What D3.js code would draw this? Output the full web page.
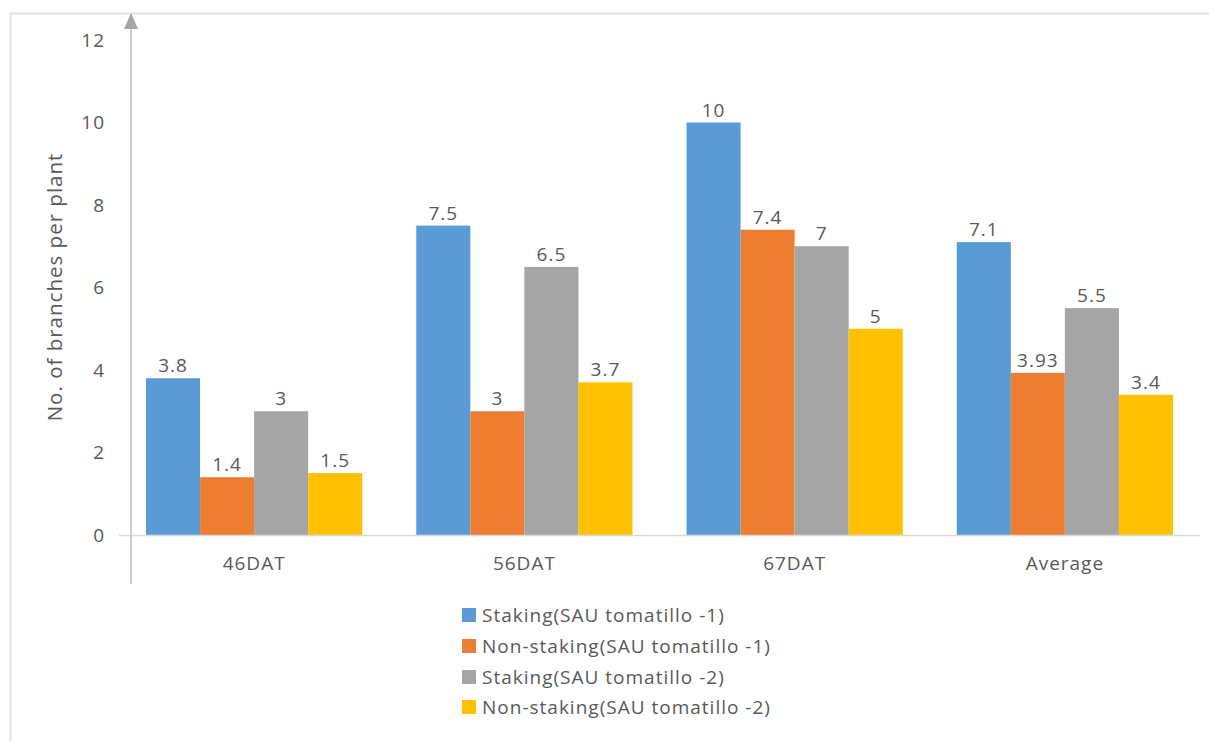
<!DOCTYPE html>
<html>
<head>
<meta charset="utf-8">
<script src="https://cdn.jsdelivr.net/npm/d3@7"></script>
<style>
  body { margin: 0; background: #fff; }
  text { font-family: "Open Sans", sans-serif; fill: #595959; letter-spacing: 1px; }
</style>
</head>
<body>
<div id="plot"></div>
<script>
// chart data
const categories = ["46DAT", "56DAT", "67DAT", "Average"];
const seriesNames = [
  "Staking(SAU tomatillo -1)",
  "Non-staking(SAU tomatillo -1)",
  "Staking(SAU tomatillo -2)",
  "Non-staking(SAU tomatillo -2)"
];
const staking1 = [3.8, 7.5, 10, 7.1];
const nonStaking1 = [1.4, 3, 7.4, 3.93];
const staking2 = [3, 6.5, 7, 5.5];
const nonStaking2 = [1.5, 3.7, 5, 3.4];
const yTicks = [0, 2, 4, 6, 8, 10, 12];

const colors = ["#5b9bd5", "#ed7d31", "#a5a5a5", "#ffc000"];
const allSeries = [staking1, nonStaking1, staking2, nonStaking2];

const svgWidth = 1209;
const svgHeight = 741;

const svg = d3.select("#plot")
  .append("svg")
  .attr("width", svgWidth)
  .attr("height", svgHeight);

// faint outer frame (only top and left show)
svg.append("path")
  .attr("d", "M10.5,741 V13.5 H1209")
  .attr("fill", "none")
  .attr("stroke", "#e3e3e3")
  .attr("stroke-width", 2);

// scales
const x0 = d3.scaleBand()
  .domain(categories)
  .range([119, 1200])
  .paddingInner(0.2)
  .paddingOuter(0.1);

const x1 = d3.scaleBand()
  .domain(d3.range(seriesNames.length))
  .range([0, x0.bandwidth()]);

const y = d3.scaleLinear().domain([0, 12]).range([535, 40]);

// y tick labels
svg.append("g")
  .selectAll("text")
  .data(yTicks)
  .enter()
  .append("text")
  .attr("x", 105)
  .attr("y", d => y(d))
  .attr("dy", "0.35em")
  .style("text-anchor", "end")
  .style("font-size", "19px")
  .text(d => d);

// bars
const groups = svg.append("g")
  .selectAll("g")
  .data(categories)
  .enter()
  .append("g")
  .attr("transform", d => "translate(" + x0(d) + ",0)");

groups.selectAll("rect")
  .data((c, i) => allSeries.map((s, k) => ({ k: k, v: s[i] })))
  .enter()
  .append("rect")
  .attr("x", d => x1(d.k))
  .attr("y", d => y(d.v))
  .attr("width", x1.bandwidth())
  .attr("height", d => y(0) - y(d.v))
  .attr("fill", d => colors[d.k]);

// value labels
groups.selectAll("text.val")
  .data((c, i) => allSeries.map((s, k) => ({ k: k, v: s[i] })))
  .enter()
  .append("text")
  .attr("class", "val")
  .attr("x", d => x1(d.k) + x1.bandwidth() / 2)
  .attr("y", d => y(d.v) - 6)
  .style("text-anchor", "middle")
  .style("font-size", "19px")
  .text(d => d.v);

// x axis line
svg.append("line")
  .attr("x1", 119).attr("x2", 1200)
  .attr("y1", y(0) + 0.5).attr("y2", y(0) + 0.5)
  .attr("stroke", "#d9d9d9")
  .attr("stroke-width", 1.5);

// category labels
svg.append("g")
  .selectAll("text")
  .data(categories)
  .enter()
  .append("text")
  .attr("x", d => x0(d) + x0.bandwidth() / 2)
  .attr("y", 570)
  .style("text-anchor", "middle")
  .style("font-size", "19px")
  .text(d => d);

// y axis arrow line
svg.append("line")
  .attr("x1", 131).attr("x2", 131)
  .attr("y1", 26).attr("y2", 584)
  .attr("stroke", "#bfbfbf")
  .attr("stroke-width", 1.5);

svg.append("path")
  .attr("d", "M131,13 L124,29 L138,29 Z")
  .attr("fill", "#a6a6a6");

// y axis title
svg.append("text")
  .attr("transform", "translate(62,287) rotate(-90)")
  .style("text-anchor", "middle")
  .style("font-size", "20.5px")
  .text("No. of branches per plant");

// legend
const legend = svg.append("g")
  .selectAll("g")
  .data(seriesNames)
  .enter()
  .append("g")
  .attr("transform", (d, i) => "translate(462," + [615, 646, 677, 707][i] + ")");

legend.append("rect")
  .attr("x", 0).attr("y", -7)
  .attr("width", 14).attr("height", 14)
  .attr("fill", (d, i) => colors[i]);

legend.append("text")
  .attr("x", 20)
  .attr("y", 0)
  .attr("dy", "0.35em")
  .style("font-size", "19px")
  .text(d => d);
</script>
</body>
</html>
